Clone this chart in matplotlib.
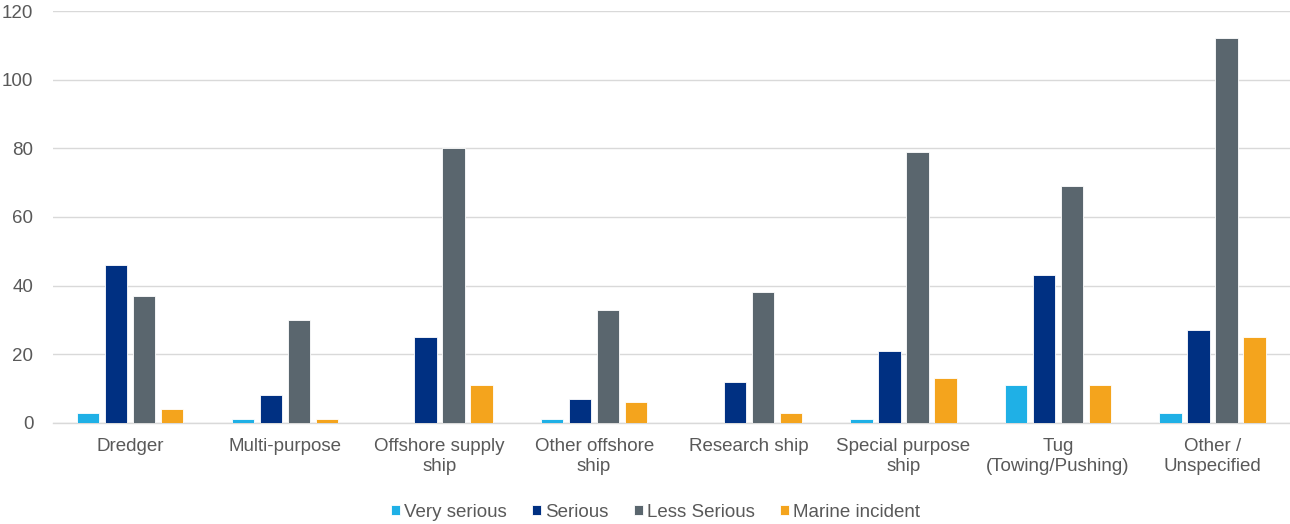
import numpy as np
import matplotlib.pyplot as plt

plt.rcParams['font.family'] = ['Liberation Sans', 'DejaVu Sans']

categories = ["Dredger", "Multi-purpose", "Offshore supply\nship", "Other offshore\nship",
              "Research ship", "Special purpose\nship", "Tug\n(Towing/Pushing)", "Other /\nUnspecified"]
very_serious = [3, 1, 0, 1, 0, 1, 11, 3]
serious = [46, 8, 25, 7, 12, 21, 43, 27]
less_serious = [37, 30, 80, 33, 38, 79, 69, 112]
marine_incident = [4, 1, 11, 6, 3, 13, 11, 25]

series = [
    ("Very serious", very_serious, "#1FB0E6"),
    ("Serious", serious, "#003082"),
    ("Less Serious", less_serious, "#5A666E"),
    ("Marine incident", marine_incident, "#F4A41D"),
]

fig = plt.figure(figsize=(12.9, 5.24), dpi=100)
ax = fig.add_axes([0.041, 0.193, 0.959, 0.786])

x = np.arange(len(categories))
step = 0.181
width = 0.145
for i, (name, vals, col) in enumerate(series):
    ax.bar(x + (i - 1.5) * step, vals, width, color=col, label=name,
           edgecolor="white", linewidth=0.6, zorder=3)

ax.set_xlim(-0.5, len(categories) - 0.5)
ax.set_ylim(0, 120)
ax.set_yticks(range(0, 121, 20))
ax.yaxis.grid(True, color="#D9D9D9", linewidth=1, zorder=0)
ax.set_xticks(x)
ax.set_xticklabels(categories)
ax.tick_params(axis="both", length=0, labelsize=13.5, labelcolor="#595959")
ax.tick_params(axis="x", pad=11)
ax.tick_params(axis="y", pad=14)
for s in ["top", "right", "left"]:
    ax.spines[s].set_visible(False)
ax.spines["bottom"].set_color("#D9D9D9")
ax.spines["bottom"].set_linewidth(1)

leg = fig.legend(loc="lower center", bbox_to_anchor=(0.508, -0.026), ncol=4, frameon=False,
                 fontsize=13.5, handlelength=0.5, handleheight=0.5, handletextpad=0.2,
                 columnspacing=1.35)
for t in leg.get_texts():
    t.set_color("#595959")

fig.savefig("out.png", dpi=100)
